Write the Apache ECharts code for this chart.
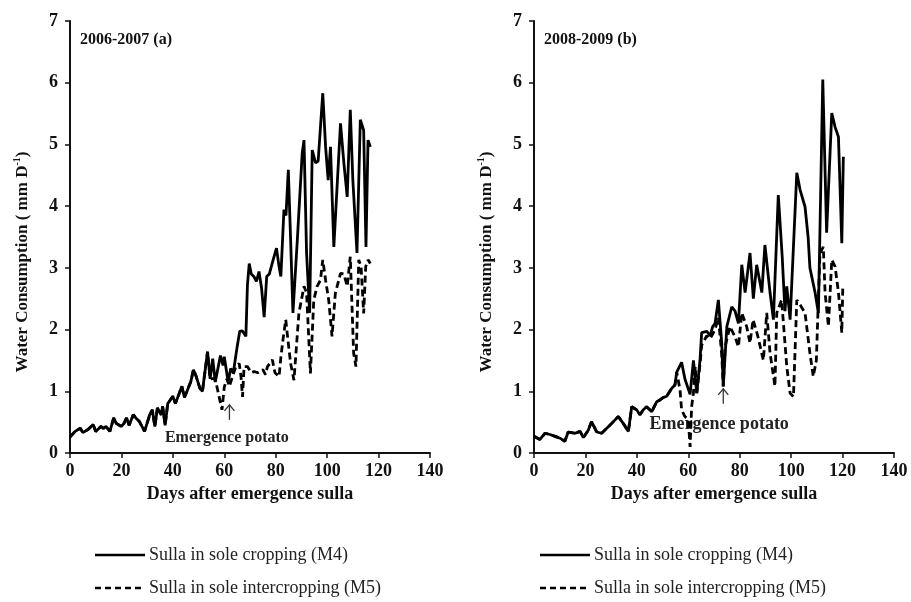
<!DOCTYPE html>
<html><head><meta charset="utf-8">
<script src="https://cdn.jsdelivr.net/npm/echarts@6/dist/echarts.min.js"></script>
<style>html,body{margin:0;padding:0;background:#fff}#c{width:911px;height:602px}</style>
</head><body><div id="c"></div>
<script>
// ---- Data (days after emergence sulla, water consumption mm/day) ----
const panelTitles = ['2006-2007 (a)', '2008-2009 (b)'];
const seriesNames = ['Sulla in sole cropping (M4)', 'Sulla in sole intercropping (M5)'];
const xTitle = 'Days after emergence sulla';
const annotation = 'Emergence potato';

// 2006-2007: common early part (both treatments overlap)
const earlyA = [[0,0.26],[2,0.35],[4,0.4],[5,0.33],[7,0.38],[9,0.46],[10,0.35],[12,0.43],[13,0.4],[14,0.43],
  [15.5,0.35],[17,0.57],[18,0.48],[20,0.43],[21,0.48],[22,0.57],[23,0.45],[24.6,0.62],[26,0.55],[27,0.51],
  [29,0.35],[31,0.62],[32,0.7],[33,0.43],[34,0.73],[35.5,0.62],[36,0.76],[37,0.45],[38,0.8],[40,0.92],
  [41,0.8],[43.5,1.08],[44.5,0.9],[45.5,1.0],[47,1.16],[48,1.35],[49,1.25],[50.5,1.05],[51.5,1.0],[53.5,1.64]];
const m4A_late = [[54.5,1.2],[55.5,1.53],[56.5,1.15],[58.5,1.58],[59.5,1.42],[60,1.56],[61.5,1.15],[62.5,1.37],[63.5,1.3],[65,1.72],
  [66,1.97],[67,1.98],[68.4,1.89],[69,2.72],[69.7,3.07],[70.5,2.9],[71.5,2.86],[72.5,2.78],[73.5,2.94],[74.5,2.67],
  [75.5,2.2],[76.5,2.86],[77.5,2.9],[79,3.13],[80.3,3.32],[81.3,3.02],[82,2.86],[83.2,3.94],[84,3.85],[84.9,4.59],
  [85.8,3.45],[86.7,2.27],[88.4,3.45],[90.3,4.86],[91,5.07],[92,3.24],[93.2,2.27],[94.2,4.91],[95.5,4.7],[96.5,4.73],
  [98.3,5.83],[99.4,4.96],[100.4,4.42],[101.3,4.96],[102.6,3.34],[105.2,5.34],[106.5,4.7],[107.8,4.15],[109,5.56],[110,4.42],
  [111.6,3.24],[112.9,5.4],[114.2,5.23],[115.1,3.34],[115.9,5.07],[116.8,4.96]];
const m5A_late = [[54.5,1.2],[56.1,1.21],[57,1.1],[58,0.91],[59.1,0.7],[60,1.07],[61,1.2],[62,1.08],[63.2,1.24],[64.5,1.4],
  [65.8,1.45],[66.5,1.24],[67.1,0.91],[67.7,1.4],[69,1.4],[70.5,1.3],[71.6,1.32],[73,1.3],[75,1.35],[76,1.27],
  [76.8,1.4],[78.7,1.51],[79.7,1.3],[81.3,1.24],[82,1.55],[82.8,1.83],[83.9,2.16],[84.6,1.89],[85.8,1.45],[87.1,1.18],
  [89,2.26],[91,2.7],[92,2.6],[93.5,1.29],[94.8,2.48],[96.1,2.7],[97.4,2.8],[98.3,3.13],[99.4,2.8],[100.6,2.48],
  [101.9,1.89],[103.2,2.59],[105.2,2.91],[106.5,2.9],[107.8,2.7],[109,3.18],[110.3,1.62],[111.2,1.4],[112.3,3.13],[113.2,3.02],
  [114.2,2.26],[115,3.02],[115.9,3.13],[116.8,3.07]];

// 2008-2009
const earlyB = [[0,0.27],[2.3,0.22],[4.3,0.32],[6.2,0.3],[8.2,0.27],[10.1,0.24],[12,0.19],[13.3,0.34],[16,0.32],[17.9,0.35],
  [19.2,0.25],[21.1,0.37],[22.4,0.51],[24.4,0.34],[26.3,0.32],[28.3,0.4],[30.2,0.48],[32.8,0.59],[34.7,0.48],[36.7,0.35],
  [38,0.75],[39.9,0.7],[41.2,0.62],[42.5,0.7],[43.8,0.75],[45.8,0.67],[47.7,0.83],[49,0.86],[50.3,0.9],[51.6,0.92],
  [53.6,1.05],[54.8,1.1],[55.5,1.31]];
const m4B_late = [[57.4,1.47],[58.7,1.2],[60.7,0.95],[62,1.5],[63.3,0.97],[64.6,1.53],[65.2,1.95],[67.2,1.97],[68.5,1.9],[69.5,2.05],
  [70.4,2.1],[71.7,2.48],[73,1.78],[73.6,1.08],[75,2.05],[76.9,2.37],[78.2,2.3],[79.5,2.1],[80.8,3.05],[82.1,2.6],
  [84,3.24],[85.3,2.5],[86.6,3.05],[88.6,2.6],[89.8,3.37],[91.8,2.6],[93.1,2.16],[95,4.18],[96.5,3.2],[97.6,2.3],
  [98.3,2.7],[99.6,2.16],[102.2,4.54],[103.5,4.26],[105.4,3.99],[106.6,3.5],[107.3,3.0],[109.3,2.6],[110.6,2.27],[112.3,6.05],
  [113.8,3.57],[115.8,5.51],[117.1,5.28],[118.4,5.12],[119.7,3.4],[120.3,4.8]];
const m5B_late = [[56.8,1.02],[57.4,0.7],[58.7,0.59],[60,0.54],[60.7,0.1],[61.3,0.75],[62,0.97],[62.7,1.4],[63.3,0.97],[64.6,1.45],
  [65.2,1.75],[67.2,1.9],[68.5,1.85],[70.4,2.0],[71.7,2.2],[73,1.6],[73.6,1.08],[74.3,1.72],[76.2,2.05],[78.2,1.88],
  [79.5,1.72],[80.8,2.27],[82.7,2.05],[84,1.78],[85.2,2.16],[87,1.9],[89.2,1.5],[90.5,2.27],[91.8,1.62],[93.7,1.08],
  [94.4,2.27],[96.3,2.48],[98.3,1.4],[99.6,0.97],[100.9,0.91],[102.2,2.48],[103.5,2.4],[105.4,2.27],[107.3,1.62],[108.6,1.24],
  [109.8,1.5],[111.2,3.24],[112.5,3.34],[113.2,2.6],[114.5,2.05],[115.8,3.13],[117.1,3.02],[118.4,2.6],[119.7,1.95],[120.1,2.7]];

const m4A = earlyA.concat(m4A_late), m5A = earlyA.concat(m5A_late);
const m4B = earlyB.concat(m4B_late), m5B = earlyB.concat(m5B_late);
const arrowPoints = [[62, 0.78], [73.6, 1.04]];   // arrow tip positions (day, value)
const labelPoints = [[61, 0.25], [72, 0.46]];     // annotation text centres

// ---- Chart ----
const FONT = '"Liberation Serif", "Times New Roman", serif';
const chart = echarts.init(document.getElementById('c'), null, {renderer: 'canvas'});
const grids = [{left: 70, top: 21, width: 360, height: 432}, {left: 534, top: 21, width: 360, height: 432}];

function xAxis(i) {
  return {type: 'value', gridIndex: i, min: 0, max: 140, interval: 20,
    axisLine: {show: true, lineStyle: {color: '#111', width: 2}},
    axisTick: {show: true, inside: false, length: 5, lineStyle: {color: '#111', width: 1.5}},
    axisLabel: {fontFamily: FONT, fontWeight: 'bold', fontSize: 18, color: '#111', margin: 9},
    splitLine: {show: false},
    name: xTitle, nameLocation: 'middle', nameGap: 31,
    nameTextStyle: {fontFamily: FONT, fontWeight: 'bold', fontSize: 18, color: '#111'}};
}
function yAxis(i) {
  return {type: 'value', gridIndex: i, min: 0, max: 7, interval: 1,
    axisLine: {show: true, lineStyle: {color: '#111', width: 2}},
    axisTick: {show: true, inside: false, length: 5, lineStyle: {color: '#111', width: 1.5}},
    axisLabel: {fontFamily: FONT, fontWeight: 'bold', fontSize: 18, color: '#111', margin: 12},
    splitLine: {show: false}};
}
function line(name, data, i, dashed) {
  return {type: 'line', name: name, xAxisIndex: i, yAxisIndex: i, data: data, symbol: 'none',
    smooth: false, z: dashed ? 2 : 3, animation: false,
    lineStyle: {color: '#000', width: 2.8, type: dashed ? [7, 4] : 'solid'}, itemStyle: {color: '#000'}};
}

chart.setOption({
  backgroundColor: '#fff',
  animation: false,
  grid: grids,
  xAxis: [xAxis(0), xAxis(1)],
  yAxis: [yAxis(0), yAxis(1)],
  series: [line(seriesNames[1], m5A, 0, true), line(seriesNames[0], m4A, 0, false),
           line(seriesNames[1], m5B, 1, true), line(seriesNames[0], m4B, 1, false)]
});

// titles, legends and annotations
const gfx = [];
const legendLeft = [95, 540];
const annotFont = [16, 18];
[0, 1].forEach(function (i) {
  const g = grids[i];
  gfx.push({type: 'text', left: g.left + 10, top: 32, style: {text: panelTitles[i], font: 'bold 16px ' + FONT, fill: '#111'}});
  gfx.push({type: 'text', x: g.left - 48, y: 262, rotation: Math.PI / 2,
    style: {text: '{n|Water Consumption ( mm D}{s|-1}{n|)}', align: 'center', verticalAlign: 'middle',
      rich: {n: {font: 'bold 17px ' + FONT, fill: '#111', verticalAlign: 'bottom', lineHeight: 19},
             s: {font: 'bold 10px ' + FONT, fill: '#111', verticalAlign: 'top', lineHeight: 19}}}});
  const a = chart.convertToPixel({gridIndex: i}, arrowPoints[i]);
  gfx.push({type: 'group', x: a[0], y: a[1], children: [
    {type: 'line', shape: {x1: 0, y1: 0, x2: 0, y2: 15}, style: {stroke: '#333', lineWidth: 1.3}},
    {type: 'polyline', shape: {points: [[-5, 6], [0, 0], [5, 6]]}, style: {stroke: '#333', lineWidth: 1.3, fill: null}}]});
  const t = chart.convertToPixel({gridIndex: i}, labelPoints[i]);
  gfx.push({type: 'text', x: t[0], y: t[1], style: {text: annotation, font: 'bold ' + annotFont[i] + 'px ' + FONT, fill: '#222', align: 'center', verticalAlign: 'middle'}});
  // legend rows
  [0, 1].forEach(function (r) {
    const y = 555 + r * 33;
    const x0 = legendLeft[i];
    gfx.push({type: 'line', shape: {x1: x0, y1: y, x2: x0 + 50, y2: y},
      style: {stroke: '#000', lineWidth: 2.5, lineDash: r === 1 ? [6, 4] : null}});
    gfx.push({type: 'text', x: x0 + 54, y: y, style: {text: seriesNames[r], font: '18px ' + FONT, fill: '#222', verticalAlign: 'middle'}});
  });
});
chart.setOption({graphic: gfx});
</script>
</body></html>
